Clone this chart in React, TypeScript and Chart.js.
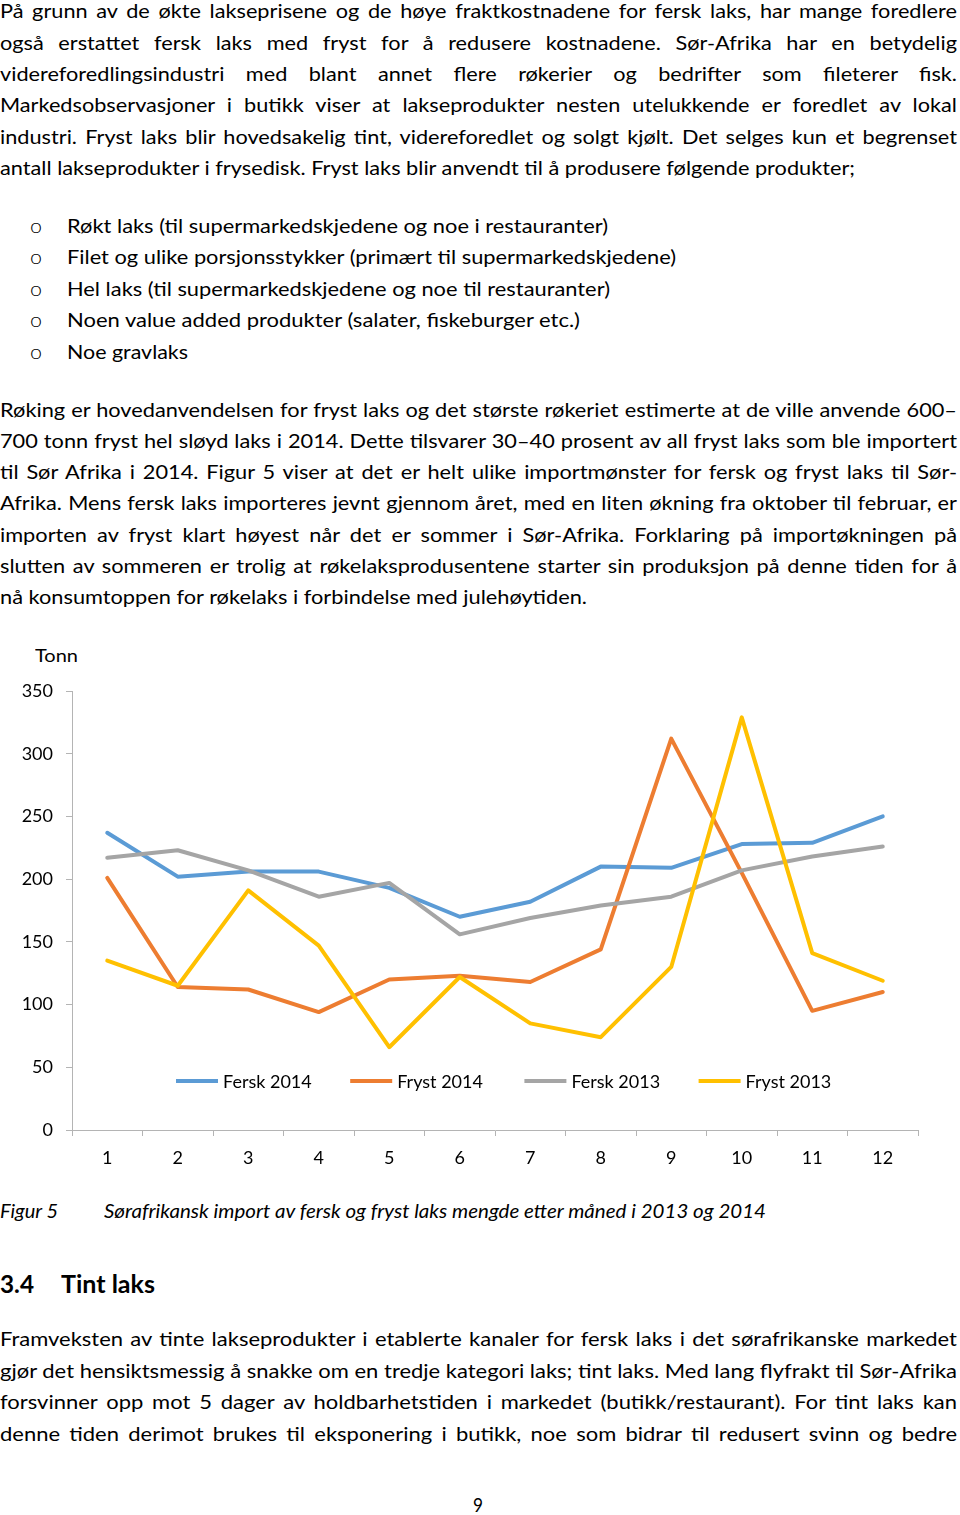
import React, { useEffect, useLayoutEffect, useRef, useState } from 'react';
import { Chart, registerables } from 'chart.js';

Chart.register(...registerables);

// ---------- chart data ----------
const months = ['1', '2', '3', '4', '5', '6', '7', '8', '9', '10', '11', '12'];
const seriesLabels = ['Fersk 2014', 'Fryst 2014', 'Fersk 2013', 'Fryst 2013'];
const fersk2014 = [237, 202, 206, 206, 193, 170, 182, 210, 209, 228, 229, 250];
const fryst2014 = [201, 114, 112, 94, 120, 123, 118, 144, 312, 205, 95, 110];
const fersk2013 = [217, 223, 207, 186, 197, 156, 169, 179, 186, 207, 218, 226];
const fryst2013 = [135, 115, 191, 147, 66, 122, 85, 74, 130, 329, 141, 119];
const seriesColors = ['#5b9bd5', '#ed7d31', '#a5a5a5', '#ffc000'];
const yMin = 0;
const yMax = 350;
const yStep = 50;
const yUnit = 'Tonn';

// ---------- page text ----------
const para1 = [
  'På grunn av de økte lakseprisene og de høye fraktkostnadene for fersk laks, har mange foredlere',
  'også erstattet fersk laks med fryst for å redusere kostnadene. Sør-Afrika har en betydelig',
  'videreforedlingsindustri med blant annet flere røkerier og bedrifter som fileterer fisk.',
  'Markedsobservasjoner i butikk viser at lakseprodukter nesten utelukkende er foredlet av lokal',
  'industri. Fryst laks blir hovedsakelig tint, videreforedlet og solgt kjølt. Det selges kun et begrenset',
  'antall lakseprodukter i frysedisk. Fryst laks blir anvendt til å produsere følgende produkter;',
];
const bullets = [
  'Røkt laks (til supermarkedskjedene og noe i restauranter)',
  'Filet og ulike porsjonsstykker (primært til supermarkedskjedene)',
  'Hel laks (til supermarkedskjedene og noe til restauranter)',
  'Noen value added produkter (salater, fiskeburger etc.)',
  'Noe gravlaks',
];
const para2 = [
  'Røking er hovedanvendelsen for fryst laks og det største røkeriet estimerte at de ville anvende 600–',
  '700 tonn fryst hel sløyd laks i 2014. Dette tilsvarer 30–40 prosent av all fryst laks som ble importert',
  'til Sør Afrika i 2014. Figur 5 viser at det er helt ulike importmønster for fersk og fryst laks til Sør-',
  'Afrika. Mens fersk laks importeres jevnt gjennom året, med en liten økning fra oktober til februar, er',
  'importen av fryst klart høyest når det er sommer i Sør-Afrika. Forklaring på importøkningen på',
  'slutten av sommeren er trolig at røkelaksprodusentene starter sin produksjon på denne tiden for å',
  'nå konsumtoppen for røkelaks i forbindelse med julehøytiden.',
];
const captionLabel = 'Figur 5';
const captionText = 'Sørafrikansk import av fersk og fryst laks mengde etter måned i 2013 og 2014';
const headingNum = '3.4';
const headingText = 'Tint laks';
const para3 = [
  'Framveksten av tinte lakseprodukter i etablerte kanaler for fersk laks i det sørafrikanske markedet',
  'gjør det hensiktsmessig å snakke om en tredje kategori laks; tint laks. Med lang flyfrakt til Sør-Afrika',
  'forsvinner opp mot 5 dager av holdbarhetstiden i markedet (butikk/restaurant). For tint laks kan',
  'denne tiden derimot brukes til eksponering i butikk, noe som bidrar til redusert svinn og bedre',
];
const pageNumber = '9';

const FONT = "Lato, Carlito, 'Noto Sans', sans-serif";
const AXIS = '#b4b4b4';

let measureCtx: CanvasRenderingContext2D | null = null;
function textWidth(text: string, size: number, weight = 400, italic = false): number {
  if (!measureCtx) measureCtx = document.createElement('canvas').getContext('2d');
  if (!measureCtx) return 1;
  measureCtx.font = `${italic ? 'italic ' : ''}${weight} ${size}px ${FONT}`;
  return measureCtx.measureText(text).width || 1;
}

type LineProps = {
  text: string;
  x: number;
  baseline: number;
  width: number;
  mode: 'justify' | 'fit';
  size?: number;
  weight?: number;
  italic?: boolean;
  glyphScale?: number;
};

function TextLine({ text, x, baseline, width, mode, size = 20, weight = 400, italic = false, glyphScale = 1 }: LineProps) {
  const boxRef = useRef<HTMLDivElement>(null);
  const natRef = useRef<HTMLSpanElement>(null);
  const markRef = useRef<HTMLSpanElement>(null);
  const [m, setM] = useState({ nat: 0, base: 0 });

  useLayoutEffect(() => {
    const measure = () => {
      const n = natRef.current;
      const k = markRef.current;
      const b = boxRef.current;
      if (!n || !k || !b) return;
      const nat = n.getBoundingClientRect().width;
      const base = k.getBoundingClientRect().top - b.getBoundingClientRect().top;
      setM((prev) => (Math.abs(prev.nat - nat) < 0.01 && Math.abs(prev.base - base) < 0.01 ? prev : { nat, base }));
    };
    measure();
    const f = (document as any).fonts;
    if (f && f.ready) f.ready.then(measure);
  }, [text, size, weight, italic]);

  const fontStyle: React.CSSProperties = {
    fontFamily: FONT,
    fontSize: size,
    fontWeight: weight,
    fontStyle: italic ? 'italic' : 'normal',
  };
  let justify = false;
  let boxWidth = width;
  let scale = 1;
  if (mode === 'fit') {
    if (m.nat > 0) {
      boxWidth = m.nat + 4;
      scale = width / m.nat;
    }
  } else {
    const inner = width / glyphScale;
    if (m.nat > inner) {
      boxWidth = m.nat + 4;
      scale = width / m.nat;
    } else {
      justify = true;
      boxWidth = inner;
      scale = glyphScale;
    }
  }
  return (
    <>
      <span
        ref={natRef}
        style={{ ...fontStyle, position: 'absolute', left: 0, top: 0, visibility: 'hidden', whiteSpace: 'pre' }}
      >
        {text}
      </span>
      <div
        ref={boxRef}
        style={{
          ...fontStyle,
          position: 'absolute',
          left: x,
          top: baseline - m.base,
          width: boxWidth,
          lineHeight: '32px',
          whiteSpace: justify ? 'normal' : 'nowrap',
          textAlign: justify ? 'justify' : 'left',
          textAlignLast: justify ? 'justify' : 'left',
          transform: `scaleX(${scale})`,
          transformOrigin: '0 0',
          color: '#000',
        }}
      >
        <span ref={markRef} style={{ display: 'inline-block', width: 0, height: 0, verticalAlign: 'baseline' }} />
        {text}
      </div>
    </>
  );
}

function SalmonChart() {
  const ref = useRef<HTMLCanvasElement>(null);
  useEffect(() => {
    if (!ref.current) return;
    const insideLegend = {
      id: 'insideLegend',
      afterDraw(chart: any) {
        const { ctx, chartArea } = chart;
        ctx.save();
        ctx.font = `18px ${FONT}`;
        ctx.textBaseline = 'middle';
        ctx.textAlign = 'left';
        const y = chartArea.bottom - 49;
        chart.data.datasets.forEach((ds: any, i: number) => {
          const x0 = chartArea.left + 104 + i * 174.2;
          ctx.strokeStyle = ds.borderColor;
          ctx.lineWidth = 4;
          ctx.lineCap = 'butt';
          ctx.beginPath();
          ctx.moveTo(x0, y);
          ctx.lineTo(x0 + 42, y);
          ctx.stroke();
          ctx.fillStyle = '#000';
          ctx.fillText(ds.label, x0 + 47, y + 1);
        });
        ctx.restore();
      },
    };
    const values = [fersk2014, fryst2014, fersk2013, fryst2013];
    const chart = new Chart(ref.current, {
      type: 'line',
      data: {
        labels: months,
        datasets: values.map((v, i) => ({
          label: seriesLabels[i],
          data: v,
          borderColor: seriesColors[i],
          backgroundColor: seriesColors[i],
          borderWidth: 4,
          pointRadius: 0,
          tension: 0,
          fill: false,
          borderJoinStyle: 'round' as const,
          borderCapStyle: 'round' as const,
          order: values.length - i,
        })),
      },
      options: {
        animation: false,
        responsive: false,
        devicePixelRatio: 1,
        layout: { padding: { top: 61, right: 42, left: 0, bottom: 0 } },
        plugins: {
          legend: { display: false },
          tooltip: { enabled: false },
          title: { display: false },
        },
        scales: {
          x: {
            offset: true,
            grid: {
              display: true,
              drawOnChartArea: false,
              drawTicks: true,
              tickLength: 6,
              color: AXIS,
              offset: true,
              lineWidth: 1,
            },
            border: { display: true, color: AXIS, width: 1 },
            ticks: {
              font: { family: FONT, size: 18 },
              color: '#000',
              padding: 11,
              maxRotation: 0,
              autoSkip: false,
            },
            afterFit: (s: any) => {
              s.height = 50;
            },
          },
          y: {
            min: yMin,
            max: yMax,
            ticks: {
              stepSize: yStep,
              font: { family: FONT, size: 18 },
              color: '#000',
              padding: 13,
            },
            grid: { drawOnChartArea: false, drawTicks: true, tickLength: 6, color: AXIS },
            border: { display: true, color: AXIS, width: 1 },
            afterFit: (s: any) => {
              s.width = 72;
            },
          },
        },
      },
      plugins: [insideLegend],
    });
    return () => chart.destroy();
  }, []);
  return (
    <canvas
      ref={ref}
      width={960}
      height={550}
      style={{ position: 'absolute', left: 0, top: 630, width: 960, height: 550 }}
    />
  );
}

const bulletEnds = [608, 676, 610, 580, 188];

export default function App() {
  const W = 957;
  // glyph width factors taken from each paragraph's unjustified (reference) line
  const gs1 = 855 / textWidth(para1[para1.length - 1], 20);
  const gs2 = 587 / textWidth(para2[para2.length - 1], 20);
  const gs3 = W / textWidth(para3[1], 20);
  return (
    <div style={{ position: 'absolute', left: 0, top: 0, width: 960, height: 1515, background: '#fff', overflow: 'hidden' }}>
      {para1.map((t, i) => (
        <TextLine
          key={'p1' + i}
          text={t}
          x={0}
          baseline={18.3 + i * 31.3}
          width={i === para1.length - 1 ? 855 : W}
          mode={i === para1.length - 1 ? 'fit' : 'justify'}
          glyphScale={gs1}
        />
      ))}
      {bullets.map((t, i) => (
        <React.Fragment key={'b' + i}>
          <TextLine text="o" x={30} baseline={232.5 + i * 31.6} width={12} mode="fit" weight={300} />
          <TextLine text={t} x={67} baseline={232.5 + i * 31.6} width={bulletEnds[i] - 67} mode="fit" />
        </React.Fragment>
      ))}
      {para2.map((t, i) => (
        <TextLine
          key={'p2' + i}
          text={t}
          x={0}
          baseline={416.5 + i * 31.3}
          width={i === para2.length - 1 ? 587 : W}
          mode={i === para2.length - 1 ? 'fit' : 'justify'}
          glyphScale={gs2}
        />
      ))}
      <TextLine text={yUnit} x={35} baseline={661.5} width={43} mode="fit" size={18} />
      <SalmonChart />
      <TextLine text={captionLabel} x={0} baseline={1218} width={58} mode="fit" size={19} italic />
      <TextLine text={captionText} x={104} baseline={1218} width={662} mode="fit" size={19} italic />
      <TextLine text={headingNum} x={0} baseline={1293} width={34} mode="fit" size={25} weight={700} />
      <TextLine text={headingText} x={61} baseline={1293} width={94} mode="fit" size={25} weight={700} />
      {para3.map((t, i) => (
        <TextLine
          key={'p3' + i}
          text={t}
          x={0}
          baseline={1346 + i * 31.6}
          width={W}
          mode={i === 1 ? 'fit' : 'justify'}
          glyphScale={gs3}
        />
      ))}
      <TextLine text={pageNumber} x={473} baseline={1512} width={10} mode="fit" />
    </div>
  );
}
